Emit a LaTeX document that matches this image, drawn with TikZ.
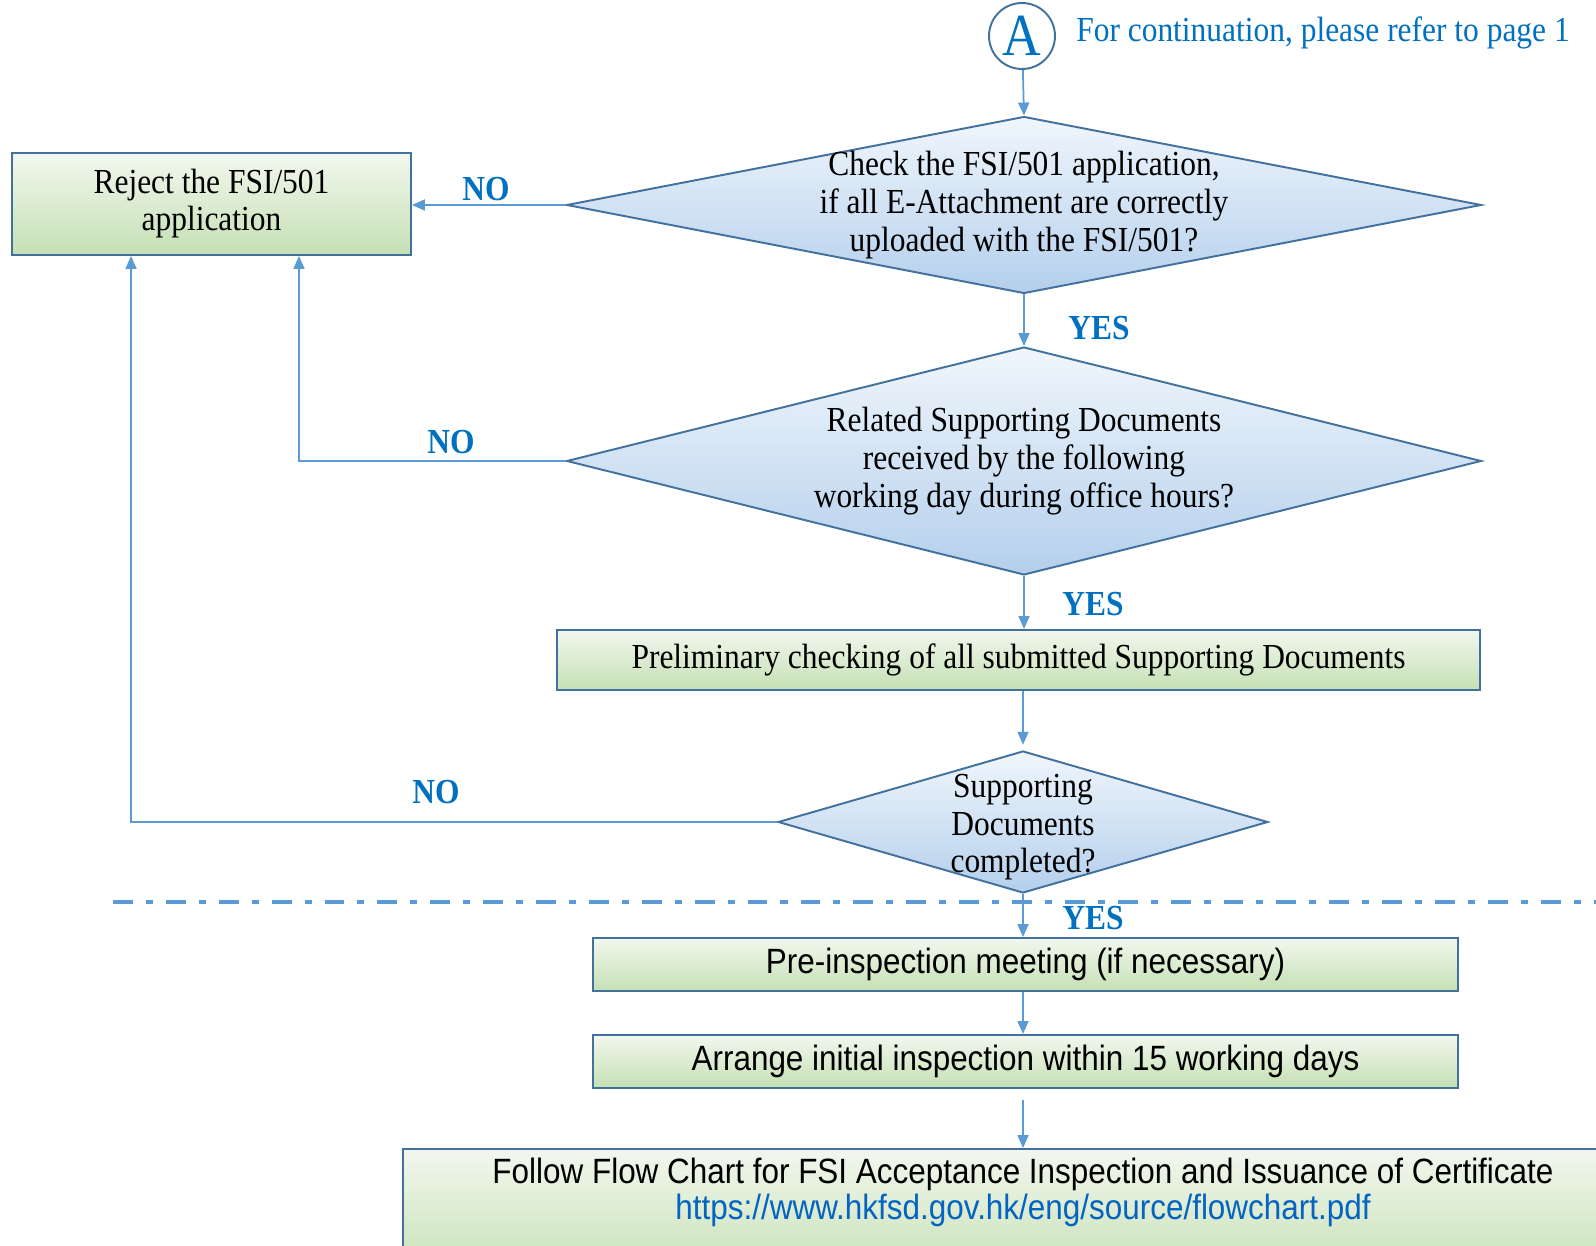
\documentclass[tikz,border=0pt]{standalone}
\usepackage{fontspec}
\setmainfont{Liberation Serif}[FakeStretch=0.895]
\setsansfont{Liberation Sans}[FakeStretch=0.895]
\usepackage{tikz}
\usetikzlibrary{arrows.meta,positioning,shapes.geometric,calc}

\definecolor{edgeblue}{HTML}{41719C}
\definecolor{arrowblue}{HTML}{5B9BD5}
\definecolor{lblblue}{HTML}{0070C0}
\definecolor{urlblue}{HTML}{0563C1}
\definecolor{greentop}{HTML}{F2F7EE}
\definecolor{greenbot}{HTML}{C5E0B4}
\definecolor{bluetop}{HTML}{F0F6FC}
\definecolor{bluebot}{HTML}{B4CFEC}

\begin{document}
\begin{tikzpicture}[
    x=0.02cm, y=-0.02cm,
    box/.style={draw=edgeblue, line width=1.1pt, top color=greentop, bottom color=greenbot, inner sep=0pt, align=center, font=\fontsize{20}{21}\selectfont},
    sbox/.style={box, font=\sffamily\fontsize{20}{21}\selectfont},
    dia/.style={diamond, draw=edgeblue, line width=1.1pt, top color=bluetop, bottom color=bluebot, inner sep=0pt},
    dtext/.style={align=center, inner sep=0pt, font=\fontsize{20}{21.5}\selectfont},
    arrow/.style={-{Triangle[length=0.26cm, width=0.22cm]}, draw=arrowblue, line width=1pt},
    lbl/.style={inner sep=0pt, text=lblblue, font=\bfseries\fontsize{20}{21}\selectfont},
]
    \useasboundingbox (0,0) rectangle (1596,1246);

    % connector from page 1
    \node[circle, draw=edgeblue, line width=1.1pt, minimum size=1.32cm, inner sep=0pt, text=lblblue, font=\fontsize{34}{34}\selectfont] (conA) at (1022,36) {A};
    \node[right=0.4cm of conA, inner sep=0pt, yshift=2pt, text=lblblue, font=\fontsize{20}{21}\selectfont] (cont) {For continuation, please refer to page 1};

    % checks
    \node[dia, minimum width=18.3cm, minimum height=3.54cm, label={[dtext]center:{Check the FSI/501 application,\\if all E-Attachment are correctly\\uploaded with the FSI/501?}}] (chkapp) at (1024,205) {};
    \node[box, minimum width=7.98cm, minimum height=2.04cm] (reject) at (211.5,204) {Reject the FSI/501\\application};
    \node[dia, minimum width=18.3cm, minimum height=4.56cm, label={[dtext]center:{Related Supporting Documents\\received by the following\\working day during office hours?}}] (rcvdocs) at (1024,461) {};
    \node[box, minimum width=18.46cm, minimum height=1.2cm] (prelim) at (1018.5,660) {Preliminary checking of all submitted Supporting Documents};
    \node[dia, minimum width=9.8cm, minimum height=2.84cm, label={[dtext, yshift=-3pt]center:{Supporting\\Documents\\completed?}}] (complete) at (1023,822) {};

    % inspection
    \node[sbox, minimum width=17.3cm, minimum height=1.06cm] (meeting) at (1025.5,964.5) {Pre-inspection meeting (if necessary)};
    \node[sbox, minimum width=17.3cm, minimum height=1.06cm] (initial) at (1025.5,1061.5) {Arrange initial inspection within 15 working days};
    \node[sbox, minimum width=24.8cm, minimum height=2.6cm, anchor=north, label={[dtext, font=\sffamily\fontsize{20}{20.4}\selectfont, anchor=north, yshift=-5.7pt]north:{Follow Flow Chart for FSI Acceptance Inspection and Issuance of Certificate\\\textcolor{urlblue}{https://www.hkfsd.gov.hk/eng/source/flowchart.pdf}}}] (follow) at (1023,1148) {};

    % separator
    \draw[arrowblue, line width=2.2pt, dash pattern=on 11.3pt off 7.4pt on 4pt off 7.4pt] (113,902) -- (1600,902);

    \draw[arrow] (conA) -- (chkapp.north);
    \draw[arrow] (chkapp.west) -- (reject.east |- chkapp.west);
    \draw[arrow] (chkapp.south) -- (rcvdocs.north);
    \draw[arrow] (rcvdocs.west) -| ([xshift=1.75cm]reject.south);
    \draw[arrow] (rcvdocs.south) -- (rcvdocs.south |- prelim.north);
    \draw[arrow, shorten >=3pt] (prelim.south -| complete.north) -- (complete.north);
    \draw[arrow] (complete.west) -| ([xshift=-1.61cm]reject.south);
    \draw[arrow] (complete.south) -- (complete.south |- meeting.north);
    \draw[arrow] (meeting.south -| complete.south) -- (initial.north -| complete.south);
    \draw[arrow, shorten <=6pt] (initial.south -| follow.north) -- (follow.north);

    \node[lbl] (no1) at (486,189) {NO};
    \node[lbl] (yes1) at (1099,328) {YES};
    \node[lbl] (no2) at (451,442) {NO};
    \node[lbl] (yes2) at (1093,604) {YES};
    \node[lbl] (no3) at (436,792) {NO};
    \node[lbl] (yes3) at (1093,918) {YES};
\end{tikzpicture}
\end{document}
